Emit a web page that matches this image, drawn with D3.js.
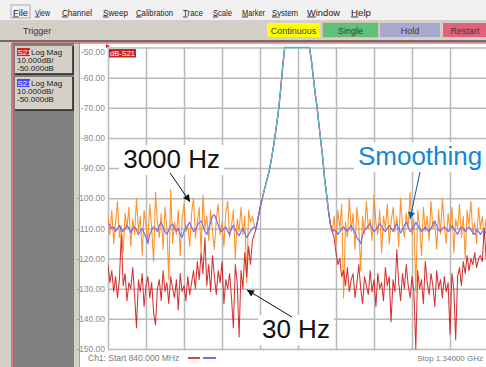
<!DOCTYPE html>
<html>
<head>
<meta charset="utf-8">
<script src="https://cdn.jsdelivr.net/npm/d3@7"></script>
<style>
  body { margin: 0; background: #fff; overflow: hidden; }
  svg { display: block; font-family: "Liberation Sans", Arial, sans-serif; }
</style>
</head>
<body>
<svg id="chart" width="486" height="367"></svg>
<script>
// sweep setup (MHz)
const sweepStart = 840, sweepStop = 1340, sweepPoints = 201;
const yTicks = [-50, -60, -70, -80, -90, -100, -110, -120, -130, -140, -150];
const xGrid = [840, 890, 940, 990, 1040, 1090, 1140, 1190, 1240, 1290, 1340];

const menuItems = ["File", "View", "Channel", "Sweep", "Calibration", "Trace", "Scale", "Marker", "System", "Window", "Help"];
const triggerButtons = ["Continuous", "Single", "Hold", "Restart"];

// filter skirt + passband, shared by every trace (points 78..118)
const passbandStart = 78;
const passband = [
  -110, -106.5, -103.3, -100.6, -98, -95.5, -93, -90.5, -87, -83.2,
  -79, -74.5, -69.5, -63, -56, -49, -38, -24, -11, -5,
  -3.4, -2.9, -2.6, -2.8, -3.1, -3.8, -7, -19, -37, -54,
  -59.5, -65, -69.5, -75.5, -81, -86.5, -93.5, -98.5, -104, -108.5,
  -111
];

// 3000 Hz IF bandwidth, noise floor
const ifbw3000Left = [
  -106, -112, -104, -115, -108, -101, -113, -109, -118, -105,
  -110, -103, -116, -107, -112, -100, -111, -106, -119, -104,
  -109, -114, -102, -110, -121, -98, -108, -113, -105, -117,
  -103, -110, -127, -97, -115, -108, -112, -104, -119, -107,
  -102, -111, -109, -116, -105, -100, -113, -108, -103, -118,
  -99, -110, -106, -114, -104, -111, -117, -107, -102, -112,
  -108, -116, -105, -101, -113, -109, -104, -120, -107, -111,
  -103, -112, -106, -128, -104, -108, -106, -109
];
const ifbw3000Right = [
  -106, -115, -104, -110, -102, -133, -108, -113, -100, -111,
  -105, -117, -103, -109, -124, -106, -112, -101, -110, -107,
  -114, -99, -108, -112, -104, -118, -106, -110, -102, -115,
  -108, -103, -111, -106, -116, -100, -109, -113, -105, -110,
  -98, -112, -107, -131, -104, -109, -119, -103, -111, -106,
  -114, -101, -110, -108, -117, -104, -112, -100, -109, -115,
  -105, -111, -103, -118, -107, -110, -102, -113, -106, -120,
  -104, -109, -101, -112, -108, -115, -103, -110, -106, -113,
  -107, -110
];

// 30 Hz IF bandwidth
const ifbw30Left = [
  -122, -128, -124, -131, -126, -133, -127, -112, -129, -125,
  -134, -128, -130, -123, -132, -143, -127, -131, -125, -136,
  -129, -126, -133, -128, -138, -142, -130, -127, -134, -124,
  -131, -128, -135, -126, -130, -133, -127, -137, -125, -131,
  -129, -134, -126, -132, -128, -124, -130, -121, -127, -118,
  -125, -113, -129, -122, -131, -119, -126, -132, -124, -128,
  -121, -135, -127, -130, -125, -133, -143, -122, -128, -146,
  -124, -130, -118, -126, -116, -122, -114, -112
];
const ifbw30Right = [
  -113, -118, -122, -120, -126, -124, -129, -123, -131, -127,
  -125, -133, -128, -122, -130, -135, -126, -129, -132, -124,
  -131, -127, -136, -125, -130, -128, -134, -123, -129, -126,
  -141, -127, -131, -117, -128, -134, -125, -130, -122, -129,
  -133, -126, -131, -150, -124, -130, -127, -135, -121, -128,
  -132, -125, -129, -136, -124, -130, -127, -133, -126, -131,
  -128, -145, -125, -130, -147, -126, -123, -129, -121, -125,
  -119, -124, -120, -122, -118, -123, -120, -119, -121, -110,
  -120, -118
];

// smoothed 3000 Hz trace
const smoothLeft = [
  -108.5, -109, -110, -109.5, -111, -110, -109, -110.5, -111, -110,
  -109, -110, -111.5, -110, -109.5, -110.5, -112, -111, -110, -111.5,
  -113, -115, -112, -110.5, -109.5, -110, -111, -109, -108, -109.5,
  -111, -112, -110.5, -109, -108.5, -110, -111, -110, -112, -113,
  -111, -110, -109, -108, -109.5, -111, -110.5, -109, -108, -107.5,
  -109, -111, -112, -110, -108, -106, -105.5, -107, -109, -110.5,
  -111, -110, -109.5, -111, -112, -110, -109, -110.5, -111.5, -112.5,
  -111, -110, -111.5, -113, -112, -111, -110, -109.5
];
const smoothRight = [
  -110.5, -111, -112, -111, -110, -109.5, -110.5, -111, -110, -109,
  -110.5, -111.5, -113, -114, -115, -112, -110.5, -110, -109, -108.5,
  -110, -111, -110.5, -109.5, -108.5, -109, -110.5, -111, -110, -109,
  -110, -111, -109.5, -108.5, -110, -111.5, -110.5, -109, -108, -109.5,
  -111, -110.5, -109.5, -108, -109, -110, -111, -110.5, -109.5, -110.5,
  -111, -110, -108.5, -107.5, -109, -110.5, -111, -110, -109.5, -110,
  -111, -110.5, -109, -110, -111, -112, -110.5, -109.5, -110, -111,
  -110, -109.5, -110.5, -111.5, -112, -110.5, -111, -112, -111, -110.5,
  -111.5, -112
];

const svg = d3.select("#chart");
const W = 486, H = 367;
const plot = { left: 108, right: 488, top: 47.5, bottom: 349 };

const x = d3.scaleLinear().domain([sweepStart, sweepStop]).range([plot.left, plot.right]);
const y = d3.scaleLinear().domain([-150, -50]).range([plot.bottom, plot.top]).clamp(true);
const freq = i => sweepStart + i * (sweepStop - sweepStart) / (sweepPoints - 1);
const fmt = d3.formatLocale({ decimal: ".", thousands: ",", grouping: [3], currency: ["", ""], minus: "-" }).format(".2f");

// ---- window chrome ----
svg.append("rect").attr("width", W).attr("height", H).attr("fill", "#d4d0c8");
svg.append("rect").attr("width", W).attr("height", 20).attr("fill", "#f1f1f1");

const menuX = [13, 35, 62, 103, 136, 183, 213, 242, 272, 307, 351];
const menuW = [15, 15, 30, 25, 37, 20, 19, 23, 26, 33, 20];
menuItems.forEach((m, i) => {
  const t = svg.append("text").attr("x", menuX[i]).attr("y", 15.5)
    .attr("font-size", 9).attr("fill", "#222")
    .attr("textLength", menuW[i]).attr("lengthAdjust", "spacingAndGlyphs");
  t.append("tspan").attr("text-decoration", "underline").text(m[0]);
  t.append("tspan").text(m.slice(1));
});
svg.append("rect").attr("x", 11).attr("y", 5).attr("width", 19).attr("height", 13)
  .attr("fill", "none").attr("stroke", "#999").attr("stroke-width", 0.8);

svg.append("text").attr("x", 23).attr("y", 34).attr("font-size", 9).attr("fill", "#333").text("Trigger");

const btnX = [267, 323, 380, 443];
const btnW = [53, 55, 60, 47];
const btnFill = ["#ffff00", "#5cc27c", "#a9a9d0", "#e2617d"];
triggerButtons.forEach((b, i) => {
  svg.append("rect").attr("x", btnX[i]).attr("y", 23).attr("width", btnW[i]).attr("height", 14)
    .attr("fill", btnFill[i])
    .attr("stroke", i === 1 ? "#e08a3a" : "none").attr("stroke-width", 0.8)
    .attr("stroke-dasharray", i === 1 ? "1.5,1" : null);
  svg.append("text").attr("x", btnX[i] + (i === 3 ? 22 : btnW[i] / 2)).attr("y", 33.5)
    .attr("text-anchor", "middle").attr("font-size", 9).attr("fill", "#3a3a3a").text(b);
});

// frame below toolbar
svg.append("rect").attr("x", 0).attr("y", 40).attr("width", W).attr("height", 2).attr("fill", "#6e6e6e");
svg.append("rect").attr("x", 80).attr("y", 43).attr("width", W - 80).attr("height", H - 43).attr("fill", "#fff");
svg.append("rect").attr("x", 13).attr("y", 43).attr("width", 61).attr("height", H - 43).attr("fill", "#7f7f7f");
svg.append("line").attr("x1", 79.5).attr("x2", 79.5).attr("y1", 43).attr("y2", H).attr("stroke", "#a0a0a0");
svg.append("line").attr("x1", 12).attr("x2", W).attr("y1", 43).attr("y2", 43).attr("stroke", "#e03a3a").attr("stroke-width", 1.2);
svg.append("line").attr("x1", 12).attr("x2", 12).attr("y1", 43).attr("y2", H).attr("stroke", "#e03a3a").attr("stroke-width", 1.2);

// trace info boxes
const traceBoxes = [
  { y: 46, h: 28, tag: "#d42020" },
  { y: 77, h: 33, tag: "#4444ff" }
];
traceBoxes.forEach(b => {
  svg.append("rect").attr("x", 15).attr("y", b.y).attr("width", 58).attr("height", b.h).attr("fill", "#d4d0c8");
  svg.append("path").attr("d", `M15,${b.y + b.h}H73V${b.y}`).attr("fill", "none").attr("stroke", "#222").attr("stroke-width", 1.5);
  svg.append("rect").attr("x", 17).attr("y", b.y + 2).attr("width", 13).attr("height", 8).attr("fill", b.tag);
  svg.append("text").attr("x", 17.5).attr("y", b.y + 9).attr("font-size", 8).attr("fill", "#fff").text("S21");
  svg.append("text").attr("x", 31).attr("y", b.y + 9).attr("font-size", 8).attr("fill", "#222").text("Log Mag");
  svg.append("text").attr("x", 17).attr("y", b.y + 17).attr("font-size", 8).attr("fill", "#222").text("10.000dB/");
  svg.append("text").attr("x", 17).attr("y", b.y + 24.5).attr("font-size", 8).attr("fill", "#222").text("-50.000dB");
});

// ---- grid ----
svg.append("g").attr("transform", `translate(0,${plot.bottom})`)
  .call(d3.axisBottom(x).tickValues(xGrid).tickSize(-(plot.bottom - plot.top)).tickFormat(""))
  .call(g => g.select(".domain").remove())
  .call(g => g.selectAll("line").attr("stroke", "#b9b9b9").attr("stroke-width", 1.5));
svg.append("g").attr("transform", `translate(${plot.left},0)`)
  .call(d3.axisLeft(y).tickValues(yTicks).tickSize(-(plot.right - plot.left)).tickFormat(""))
  .call(g => g.select(".domain").remove())
  .call(g => g.selectAll("line").attr("stroke", "#b9b9b9").attr("stroke-width", 1.5));

// y labels
svg.append("g").attr("transform", `translate(${plot.left - 2},0)`)
  .call(d3.axisLeft(y).tickValues(yTicks).tickSize(0).tickPadding(1).tickFormat(fmt))
  .call(g => g.select(".domain").remove())
  .call(g => g.selectAll("text").attr("font-size", 8.5).attr("fill", "#8a8a8a")
    .attr("font-family", "'Liberation Sans', Arial, sans-serif"))
  .call(g => g.selectAll(".tick").filter(d => d === -50).select("text").attr("dy", "0.85em"));

// ---- traces ----
svg.append("clipPath").attr("id", "plot-clip").append("rect")
  .attr("x", plot.left).attr("y", 44).attr("width", plot.right - plot.left).attr("height", plot.bottom - 44 + 1);

const full = (l, r) => l.concat(passband, r);
const traceLine = (offset) => d3.line()
  .x((d, i) => x(freq(i + offset)))
  .y(d => y(d));

const traces = [
  { data: full(ifbw3000Left, ifbw3000Right), color: "#ff8a1c", w: 1.1, op: 0.92 },
  { data: full(ifbw30Left, ifbw30Right), color: "#d01818", w: 1.05, op: 0.88 },
  { data: full(smoothLeft, smoothRight), color: "#6f6ff2", w: 1.2, op: 1 }
];
const traceG = svg.append("g").attr("clip-path", "url(#plot-clip)");
traces.forEach(t => {
  traceG.append("path").datum(t.data)
    .attr("fill", "none").attr("stroke", t.color).attr("stroke-width", t.w)
    .attr("stroke-opacity", t.op).attr("stroke-linejoin", "round")
    .attr("d", traceLine(0));
});
// upper skirt + passband overlay
traceG.append("path").datum(passband.slice(3, 39))
  .attr("fill", "none").attr("stroke", "#5cb8b8").attr("stroke-width", 1.3)
  .attr("d", traceLine(passbandStart + 3));

// reference marker and trace label
svg.append("path").attr("d", `M${plot.left - 2},44 L${plot.left + 2},46 L${plot.left - 2},48 Z`).attr("fill", "#e02020");
svg.append("rect").attr("x", plot.left + 1).attr("y", 49).attr("width", 27).attr("height", 8.5).attr("fill", "#cc1f1f");
svg.append("text").attr("x", plot.left + 2).attr("y", 56.3).attr("font-size", 7.5).attr("fill", "#fff").text("dB-S21");

// bottom status strip
svg.append("text").attr("x", 88).attr("y", 361).attr("font-size", 8.5).attr("fill", "#7a7a7a").text("Ch1: Start  840.000 MHz");
svg.append("line").attr("x1", 188).attr("x2", 200).attr("y1", 358).attr("y2", 358).attr("stroke", "#e04040").attr("stroke-width", 2);
svg.append("line").attr("x1", 203).attr("x2", 216).attr("y1", 358).attr("y2", 358).attr("stroke", "#6a6aff").attr("stroke-width", 2);
svg.append("text").attr("x", 483).attr("y", 361).attr("text-anchor", "end")
  .attr("font-size", 8).attr("fill", "#7a7a7a").text("Stop  1.34000 GHz");

// ---- annotations ----
const defs = svg.append("defs");
[["arrow-k", "#111"], ["arrow-b", "#0d5c9c"]].forEach(([id, c]) => {
  defs.append("marker").attr("id", id).attr("viewBox", "0 0 10 10")
    .attr("refX", 10).attr("refY", 5).attr("markerUnits", "userSpaceOnUse")
    .attr("markerWidth", 9).attr("markerHeight", 7).attr("orient", "auto")
    .append("path").attr("d", "M0,0 L10,5 L0,10 Z").attr("fill", c);
});

const notes = [
  { text: "3000 Hz", f: 860, db: -90, color: "#111", arrow: [[921.6, -91.6], [947.9, -101.2]], marker: "arrow-k" },
  { text: "30 Hz", f: 1042.6, db: -146.4, color: "#111", arrow: [[1082.1, -139.4], [1022.9, -130.4]], marker: "arrow-k" },
  { text: "Smoothing", f: 1168.9, db: -89, color: "#1487d4", arrow: [[1250.5, -91.3], [1237.4, -106.9]], marker: "arrow-b" }
];
notes.forEach(n => {
  const g = svg.append("g");
  const t = g.append("text").attr("x", x(n.f)).attr("y", y(n.db))
    .attr("font-size", 26).attr("fill", n.color).text(n.text);
  const bb = t.node().getBBox();
  g.insert("rect", "text").attr("x", bb.x - 4).attr("y", bb.y + 1).attr("width", bb.width + 8).attr("height", bb.height)
    .attr("fill", "#fff");
  svg.append("line")
    .attr("x1", x(n.arrow[0][0])).attr("y1", y(n.arrow[0][1]))
    .attr("x2", x(n.arrow[1][0])).attr("y2", y(n.arrow[1][1]))
    .attr("stroke", n.color === "#111" ? "#111" : "#0d5c9c").attr("stroke-width", 1)
    .attr("marker-end", `url(#${n.marker})`);
});
</script>
</body>
</html>
